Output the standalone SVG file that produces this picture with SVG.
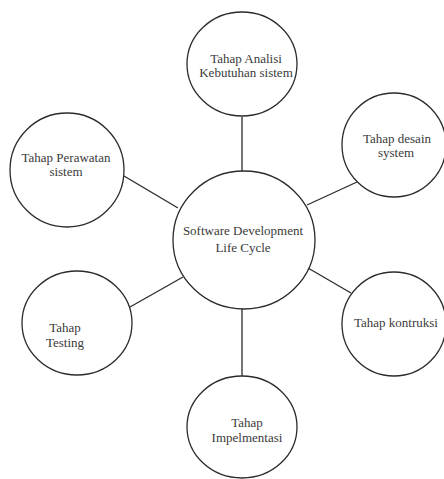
<svg xmlns="http://www.w3.org/2000/svg" width="444" height="479" viewBox="0 0 444 479">
<style>
.n{fill:#fff;stroke:#2b2b2b;stroke-width:1.3}
.c line{stroke:#2b2b2b;stroke-width:1.3}
text{font-family:"Liberation Serif","Times New Roman",serif;font-size:13px;fill:#3a3a3a;text-anchor:middle}
</style>
<rect width="444" height="479" fill="#fff"/>
<g class="c" id="connectors">
<line x1="242" y1="117" x2="242" y2="171"/>
<line x1="242" y1="308" x2="242" y2="377"/>
<line x1="124" y1="176" x2="178" y2="208"/>
<line x1="307" y1="205" x2="357" y2="182"/>
<line x1="308" y1="268" x2="351" y2="293"/>
<line x1="130" y1="307" x2="183" y2="277"/>
</g>
<g id="sdlc">
<ellipse class="n" cx="244" cy="240" rx="71" ry="69"/>
<text x="243" y="235">Software Development</text>
<text x="243" y="252">Life Cycle</text>
</g>
<g id="analisi">
<ellipse class="n" cx="242" cy="64" rx="55" ry="52"/>
<text x="246" y="63">Tahap Analisi</text>
<text x="246" y="77">Kebutuhan sistem</text>
</g>
<g id="perawatan">
<ellipse class="n" cx="67" cy="170" rx="57" ry="57"/>
<text x="66" y="162">Tahap Perawatan</text>
<text x="66" y="176">sistem</text>
</g>
<g id="desain">
<ellipse class="n" cx="394" cy="145" rx="52" ry="52"/>
<text x="397" y="143">Tahap desain</text>
<text x="396" y="157">system</text>
</g>
<g id="kontruksi">
<ellipse class="n" cx="394" cy="324" rx="52" ry="52"/>
<text x="396" y="327">Tahap kontruksi</text>
</g>
<g id="testing">
<ellipse class="n" cx="77" cy="323" rx="55" ry="52"/>
<text x="65" y="332">Tahap</text>
<text x="65" y="347">Testing</text>
</g>
<g id="implementasi">
<ellipse class="n" cx="242" cy="427" rx="55" ry="51"/>
<text x="247" y="427">Tahap</text>
<text x="247" y="442">Impelmentasi</text>
</g>
</svg>
